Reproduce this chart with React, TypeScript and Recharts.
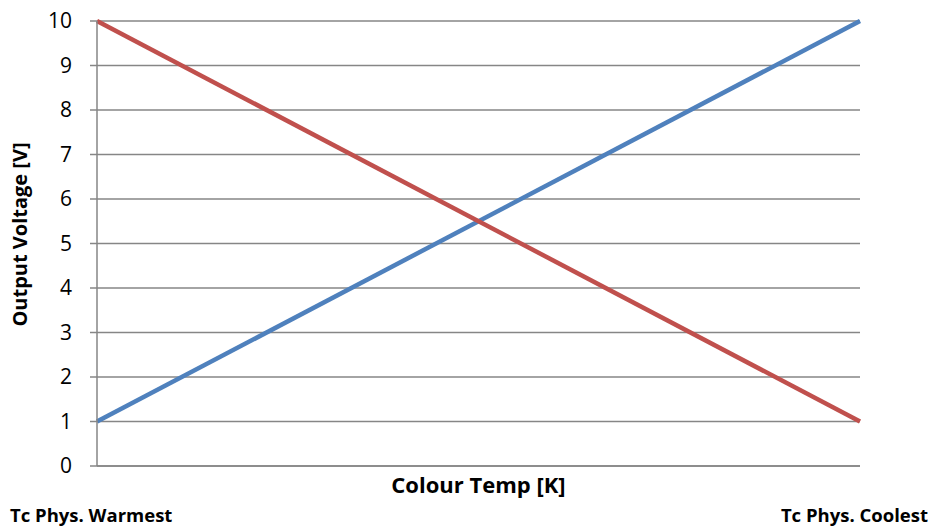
import { CartesianGrid, Label, Line, LineChart, XAxis, YAxis } from "recharts";

const categories = ["Tc Phys. Warmest", "Tc Phys. Coolest"];
const blueValues = [1, 10];
const redValues = [10, 1];
const yTicks = [0, 1, 2, 3, 4, 5, 6, 7, 8, 9, 10];

const data = categories.map((name, i) => ({
  name,
  blue: blueValues[i],
  red: redValues[i]
}));

const FONT = "'Open Sans', Lato, sans-serif";

const CornerTick = (props: any) => {
  const { x, y, payload, index } = props;
  const first = index === 0;
  return (
    <text
      x={first ? x - 87 : x + 68}
      y={y + 48}
      textAnchor={first ? "start" : "end"}
      fontFamily={FONT}
      fontWeight="bold"
      fontSize={18.5}
      fill="#000"
    >
      {payload.value}
    </text>
  );
};

// rotated y-axis title, a bit above the plot centre like the original
const YTitle = (props: any) => {
  const { viewBox } = props;
  const cx = viewBox.x + 27;
  const cy = viewBox.y + viewBox.height / 2 - 9;
  return (
    <text
      x={cx}
      y={cy}
      transform={`rotate(-90, ${cx}, ${cy})`}
      textAnchor="middle"
      fontFamily={FONT}
      fontWeight="bold"
      fontSize={20}
      fill="#000"
    >
      Output Voltage [V]
    </text>
  );
};

export default function App() {
  return (
    <div style={{ position: "absolute", left: 0, top: 0, fontFamily: FONT }}>
      <LineChart
        width={933}
        height={526}
        data={data}
        margin={{ top: 21, right: 73, bottom: 0, left: 0 }}
      >
        <CartesianGrid vertical={false} stroke="#868686" strokeWidth={1.5} />
        <XAxis
          dataKey="name"
          scale="point"
          padding={{ left: 0, right: 0 }}
          height={60}
          interval={0}
          tickLine={false}
          axisLine={{ stroke: "#868686", strokeWidth: 1.5 }}
          tick={<CornerTick />}
        >
          <Label
            value="Colour Temp [K]"
            position="insideTop"
            offset={11}
            style={{ fontWeight: "bold", fontSize: 22, fill: "#000" }}
          />
        </XAxis>
        <YAxis
          type="number"
          domain={[0, 10]}
          ticks={yTicks}
          width={97}
          tickSize={7}
          tickMargin={18}
          axisLine={{ stroke: "#868686", strokeWidth: 1.5 }}
          tickLine={{ stroke: "#868686", strokeWidth: 1.5 }}
          tick={{ fill: "#000", fontSize: 21 }}
        >
          <Label content={<YTitle />} />
        </YAxis>
        <Line
          type="linear"
          dataKey="blue"
          stroke="#4F81BD"
          strokeWidth={4.5}
          dot={false}
          isAnimationActive={false}
        />
        <Line
          type="linear"
          dataKey="red"
          stroke="#C0504D"
          strokeWidth={4.5}
          dot={false}
          isAnimationActive={false}
        />
      </LineChart>
    </div>
  );
}
